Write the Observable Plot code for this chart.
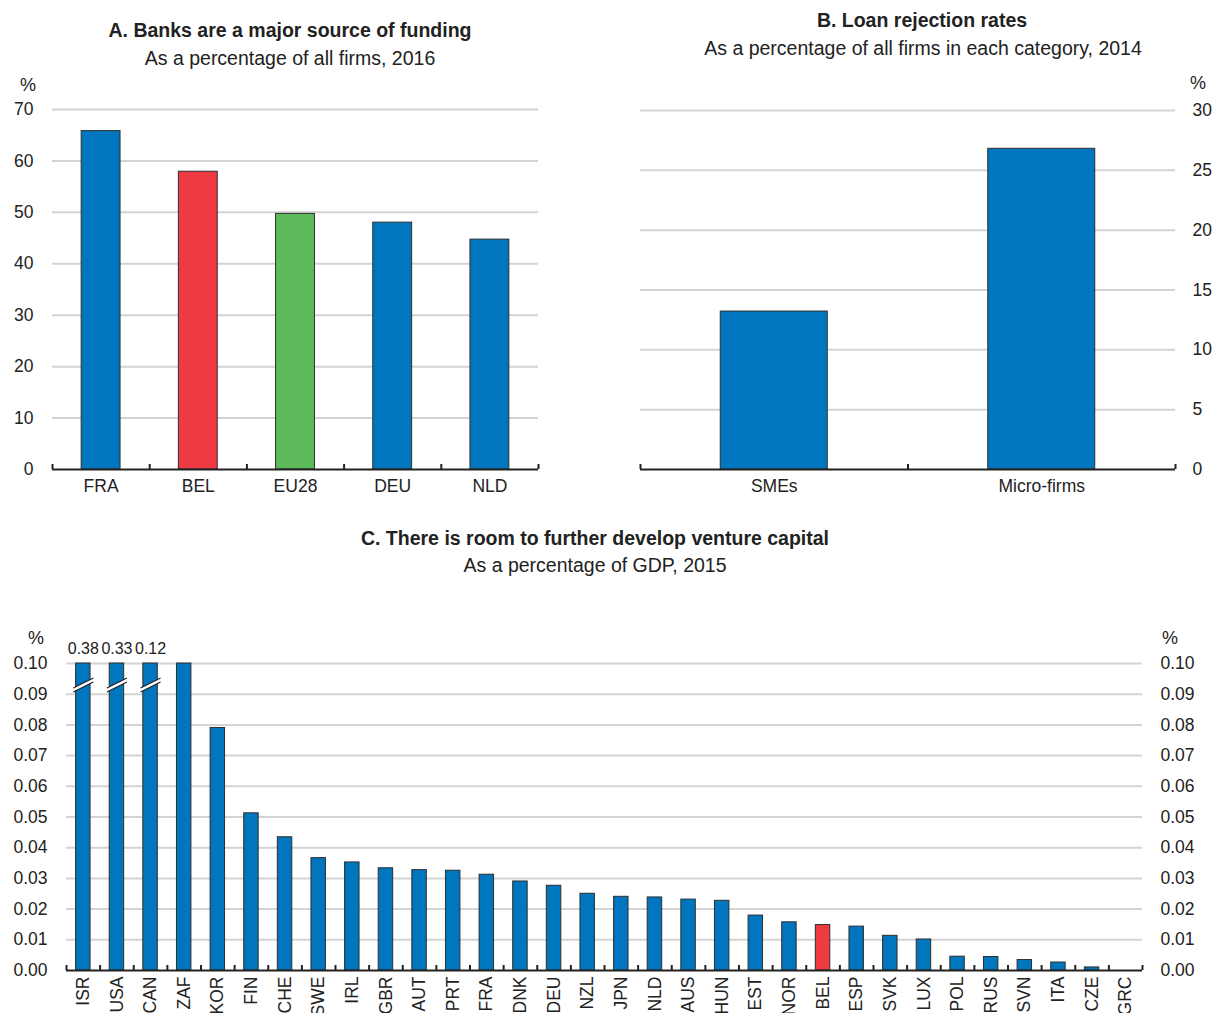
<!DOCTYPE html>
<html>
<head>
<meta charset="utf-8">
<script src="https://cdn.jsdelivr.net/npm/d3@7"></script>
<script src="https://cdn.jsdelivr.net/npm/@observablehq/plot@0.6"></script>
<style>
  body { margin: 0; background: #fff; }
  #root { position: relative; width: 1214px; height: 1013px; overflow: hidden;
          font-family: "Liberation Sans", Arial, Helvetica, sans-serif; color: #222; }
  .t { position: absolute; white-space: nowrap; transform: translate(-50%, -50%); }
  .title { font-weight: bold; font-size: 19.5px; }
  .sub { font-size: 19.5px; }
  .pct { position: absolute; font-size: 18px; transform: translate(-50%, -50%); }
  .panel { position: absolute; }
</style>
</head>
<body>
<div id="root">
  <div class="t title" style="left:290px; top:30px;">A. Banks are a major source of funding</div>
  <div class="t sub" style="left:290px; top:58px;">As a percentage of all firms, 2016</div>
  <div class="t title" style="left:922px; top:20px;">B. Loan rejection rates</div>
  <div class="t sub" style="left:923px; top:48px;">As a percentage of all firms in each category, 2014</div>
  <div class="t title" style="left:595px; top:538px;">C. There is room to further develop venture capital</div>
  <div class="t sub" style="left:595px; top:565px;">As a percentage of GDP, 2015</div>
  <div class="pct" style="left:28px; top:85px;">%</div>
  <div class="pct" style="left:1198px; top:83px;">%</div>
  <div class="pct" style="left:36px; top:638px;">%</div>
  <div class="pct" style="left:1170px; top:638px;">%</div>
  <div id="a" class="panel" style="left:0px; top:70px;"></div>
  <div id="b" class="panel" style="left:600px; top:70px;"></div>
  <div id="c" class="panel" style="left:0px; top:640px;"></div>
</div>
<script>
// ---------- DATA ----------
const fundingCats = ["FRA", "BEL", "EU28", "DEU", "NLD"];
const fundingVals = [65.8, 57.9, 49.7, 48.0, 44.7];

const rejectCats = ["SMEs", "Micro-firms"];
const rejectVals = [13.2, 26.8];

const vcCats = ["ISR","USA","CAN","ZAF","KOR","FIN","CHE","SWE","IRL","GBR","AUT","PRT","FRA","DNK","DEU",
                "NZL","JPN","NLD","AUS","HUN","EST","NOR","BEL","ESP","SVK","LUX","POL","RUS","SVN","ITA","CZE","GRC"];
const vcVals = [0.38, 0.33, 0.12, 0.10, 0.079, 0.0512, 0.0434, 0.0366, 0.0352, 0.0333, 0.0327, 0.0325, 0.0312, 0.029, 0.0276,
                0.0250, 0.0240, 0.0238, 0.0231, 0.0227, 0.0179, 0.0157, 0.0148, 0.0143, 0.0113, 0.0101, 0.0045, 0.0044, 0.0034, 0.0026, 0.001, 0];
const vcMax = 0.10;

// ---------- STYLE ----------
const BLUE = "#0076be", RED = "#ee3a42", GREEN = "#5dbb5b", OUTLINE = "#2e2e2e", GRID = "#d3d3d3", INK = "#222";
const FONT = `"Liberation Sans", Arial, Helvetica, sans-serif`;
const baseStyle = {fontFamily: FONT, fontSize: "17.5px", color: INK, background: "transparent", overflow: "visible"};

function boundaryTicks(cats, step) {
  const opts = {x: d => d, y1: () => 0, y2: () => 0, insetTop: -5, stroke: INK, strokeWidth: 2};
  return [
    Plot.ruleX(cats, {...opts, dx: -step / 2}),
    Plot.ruleX(cats.slice(-1), {...opts, dx: step / 2})
  ];
}

// ---------- PANEL A ----------
{
  const W = 560, H = 440, mL = 52, mR = 22, mT = 39, mB = 41;
  const data = fundingCats.map((c, i) => ({cat: c, v: fundingVals[i]}));
  const step = (W - mL - mR) / fundingCats.length;
  const fillOf = d => d.cat === "BEL" ? RED : d.cat === "EU28" ? GREEN : BLUE;
  const p = Plot.plot({
    width: W, height: H, marginLeft: mL, marginRight: mR, marginTop: mT, marginBottom: mB,
    style: baseStyle,
    x: {domain: fundingCats, paddingInner: 0.6, paddingOuter: 0.3, round: false, label: null, tickSize: 0, tickPadding: 10},
    y: {domain: [0, 70], ticks: 7, label: null, tickSize: 0, tickPadding: 19},
    marks: [
      Plot.ruleY(d3.range(10, 71, 10), {stroke: GRID, strokeWidth: 2}),
      Plot.barY(data, {x: "cat", y: "v", fill: fillOf, stroke: OUTLINE, strokeWidth: 1}),
      Plot.ruleY([0], {stroke: INK, strokeWidth: 2}),
      ...boundaryTicks(fundingCats, step)
    ]
  });
  document.getElementById("a").appendChild(p);
}

// ---------- PANEL B ----------
{
  const W = 614, H = 440, mL = 40, mR = 39, mT = 40, mB = 41;
  const data = rejectCats.map((c, i) => ({cat: c, v: rejectVals[i]}));
  const step = (W - mL - mR) / rejectCats.length;
  const p = Plot.plot({
    width: W, height: H, marginLeft: mL, marginRight: mR, marginTop: mT, marginBottom: mB,
    style: baseStyle,
    x: {domain: rejectCats, paddingInner: 0.6, paddingOuter: 0.3, round: false, label: null, tickSize: 0, tickPadding: 10},
    y: {domain: [0, 30], ticks: 6, axis: "right", label: null, tickSize: 0, tickPadding: 17},
    marks: [
      Plot.ruleY(d3.range(5, 31, 5), {stroke: GRID, strokeWidth: 2}),
      Plot.barY(data, {x: "cat", y: "v", fill: BLUE, stroke: OUTLINE, strokeWidth: 1}),
      Plot.ruleY([0], {stroke: INK, strokeWidth: 2}),
      ...boundaryTicks(rejectCats, step)
    ]
  });
  document.getElementById("b").appendChild(p);
}

// ---------- PANEL C ----------
{
  const W = 1214, H = 380, mL = 66, mR = 72, mT = 23, mB = 50;
  const data = vcCats.map((c, i) => ({cat: c, v: vcVals[i]}));
  const clipped = data.filter(d => d.v > vcMax + 1e-9);
  const step = (W - mL - mR) / vcCats.length;
  const yTicks = d3.range(0, 11).map(i => i / 100);
  const breakFill = {draw(ctx) { ctx.moveTo(-10, 3); ctx.lineTo(10, -7); ctx.lineTo(10, -3); ctx.lineTo(-10, 7); ctx.closePath(); }};
  const breakLines = {draw(ctx) { ctx.moveTo(-10, 3); ctx.lineTo(10, -7); ctx.moveTo(-10, 7); ctx.lineTo(10, -3); }};
  const p = Plot.plot({
    width: W, height: H, marginLeft: mL, marginRight: mR, marginTop: mT, marginBottom: mB,
    style: baseStyle,
    x: {domain: vcCats, paddingInner: 0.57, paddingOuter: 0.285, round: false, label: null, tickSize: 0, tickPadding: 6, tickRotate: -90},
    y: {domain: [0, vcMax], clamp: true, ticks: 10, label: null, tickSize: 0, tickPadding: 19, tickFormat: d3.format(".2f")},
    marks: [
      Plot.ruleY(yTicks.slice(1), {stroke: GRID, strokeWidth: 2}),
      Plot.barY(data, {x: "cat", y: "v", fill: d => d.cat === "BEL" ? RED : BLUE, stroke: OUTLINE, strokeWidth: 1}),
      Plot.dot(clipped, {x: "cat", y: () => 0.093, symbol: breakFill, r: 5, fill: "white", stroke: "none"}),
      Plot.dot(clipped, {x: "cat", y: () => 0.093, symbol: breakLines, r: 5, fill: "none", stroke: INK, strokeWidth: 1.2}),
      Plot.text(clipped, {x: "cat", y: () => vcMax, text: d => d.v.toFixed(2), dy: -15, fontSize: 16, fill: INK}),
      Plot.text(yTicks, {y: d => d, text: d => d.toFixed(2), frameAnchor: "right", textAnchor: "start", dx: 18, fill: INK}),
      Plot.ruleY([0], {stroke: INK, strokeWidth: 2}),
      ...boundaryTicks(vcCats, step)
    ]
  });
  document.getElementById("c").appendChild(p);
}
</script>
</body>
</html>
